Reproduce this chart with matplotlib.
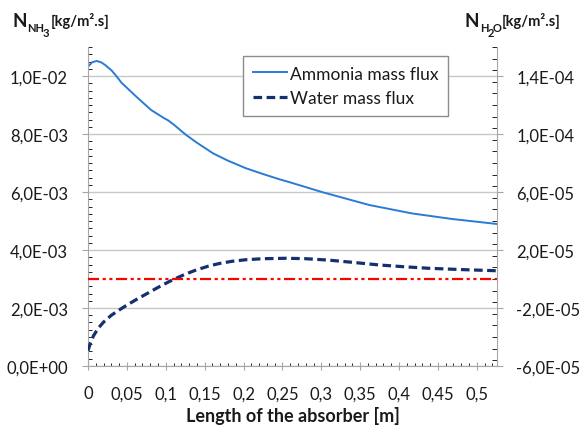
import matplotlib
matplotlib.use("Agg")
import matplotlib.pyplot as plt
from matplotlib.ticker import MultipleLocator, FuncFormatter, FixedLocator

plt.rcParams['font.family'] = ['Lato', 'DejaVu Sans']

# Ammonia mass flux [kg/m2.s] (left axis)
length_nh3 = [0, 0.005, 0.011, 0.017, 0.022, 0.030, 0.037, 0.043, 0.062, 0.081,
              0.097, 0.103, 0.110, 0.126, 0.140, 0.161, 0.180, 0.203, 0.225,
              0.246, 0.259, 0.302, 0.362, 0.417, 0.468, 0.525]
flux_nh3 = [10.32e-3, 10.47e-3, 10.52e-3, 10.47e-3, 10.38e-3, 10.20e-3, 9.98e-3,
            9.77e-3, 9.29e-3, 8.83e-3, 8.56e-3, 8.47e-3, 8.33e-3, 7.97e-3, 7.70e-3,
            7.33e-3, 7.08e-3, 6.82e-3, 6.62e-3, 6.44e-3, 6.34e-3, 5.99e-3, 5.55e-3,
            5.26e-3, 5.07e-3, 4.90e-3]

# Water mass flux [kg/m2.s] (right axis)
length_h2o = [0, 0.003, 0.007, 0.013, 0.020, 0.030, 0.040, 0.050, 0.062, 0.075,
              0.090, 0.109, 0.125, 0.139, 0.155, 0.169, 0.185, 0.203, 0.225,
              0.255, 0.280, 0.310, 0.340, 0.374, 0.405, 0.438, 0.480, 0.525]
flux_h2o = [-4.94e-5, -4.42e-5, -3.92e-5, -3.40e-5, -2.97e-5, -2.50e-5, -2.14e-5,
            -1.80e-5, -1.42e-5, -1.03e-5, -0.58e-5, -0.05e-5, 0.33e-5, 0.62e-5,
            0.89e-5, 1.07e-5, 1.22e-5, 1.33e-5, 1.40e-5, 1.43e-5, 1.40e-5,
            1.30e-5, 1.15e-5, 0.97e-5, 0.85e-5, 0.74e-5, 0.65e-5, 0.57e-5]

zero_flux = 0.0

left_ticks = [0, 2e-3, 4e-3, 6e-3, 8e-3, 10e-3]
right_ticks = [-6e-5, -2e-5, 2e-5, 6e-5, 10e-5, 14e-5]

txt = '#1a1a1a'
spine_col = '#a6a6a6'


def sci_comma(v, pos):
    return ("%.1E" % v).replace('.', ',')


def x_comma(v, pos):
    return ("%g" % round(v, 3)).replace('.', ',')


def fx(px):
    return px / 583


def fy(py):
    return 1 - py / 431


fig = plt.figure(figsize=(5.83, 4.31), dpi=100)
ax = fig.add_axes([0.151, 0.1485, 0.7015, 0.7401])
ax2 = ax.twinx()

ax.plot(length_nh3, flux_nh3, color='#2a7bd4', lw=1.4, label='Ammonia mass flux')
ax2.plot(length_h2o, flux_h2o, color='#14306e', lw=2.3, dashes=(2.7, 1.4),
         label='Water mass flux')
ax2.axhline(zero_flux, color='#ff0000', lw=1.6, dashes=(5, 1.6, 1.4, 1.6, 1.4, 1.6))

ax.set_xlim(0, 0.526)
ax.set_ylim(0, 11e-3)
ax2.set_ylim(-6e-5, 16e-5)

ax.yaxis.set_major_locator(FixedLocator(left_ticks))
ax.yaxis.set_minor_locator(MultipleLocator(2.5e-4))
ax.yaxis.set_major_formatter(FuncFormatter(sci_comma))
ax2.yaxis.set_major_locator(FixedLocator(right_ticks))
ax2.yaxis.set_minor_locator(MultipleLocator(8e-6))
ax2.yaxis.set_major_formatter(FuncFormatter(sci_comma))
ax.xaxis.set_major_locator(MultipleLocator(0.05))
ax.xaxis.set_minor_locator(MultipleLocator(0.01))
ax.xaxis.set_major_formatter(FuncFormatter(x_comma))

ax.grid(True, axis='y', which='major', color='#c8c8c8', lw=1)
ax.set_axisbelow(True)

for a in (ax, ax2):
    a.spines['top'].set_visible(False)
    for s in ('left', 'right', 'bottom'):
        a.spines[s].set_color(spine_col)
    a.tick_params(colors=spine_col, labelcolor=txt, labelsize=12)

ax.spines['right'].set_visible(False)
ax2.spines['left'].set_visible(False)
ax2.spines['bottom'].set_visible(False)

ax.tick_params(axis='y', which='major', direction='out', length=4.5, pad=10)
ax.tick_params(axis='y', which='minor', direction='in', length=3)
ax2.tick_params(axis='y', which='major', direction='out', length=4, pad=10)
ax2.tick_params(axis='y', which='minor', direction='in', length=3.5)
ax.tick_params(axis='x', which='major', direction='inout', length=6, pad=11)
ax.tick_params(axis='x', which='minor', direction='in', length=2.5)

ax.set_xlabel('Length of the absorber [m]', fontsize=13, fontweight='bold',
              color=txt, labelpad=3)

# axis titles, built from pieces so the subscripts sit like the original
def axis_title(x0, parts):
    for dx, dy, s, size in parts:
        fig.text(fx(x0 + dx), fy(dy), s, fontsize=size, fontweight='bold',
                 color=txt, va='baseline')


axis_title(12, [(0, 27, 'N', 13.5), (15, 32, 'NH', 8), (31, 37, '3', 8),
                (39, 26, '[kg/m².s]', 10.5)])
axis_title(465, [(0, 27, 'N', 13.5), (15, 32, 'H', 8), (23, 37, '2', 8),
                 (28, 32, 'O', 8), (37, 26, '[kg/m².s]', 10.5)])

h1, l1 = ax.get_legend_handles_labels()
h2, l2 = ax2.get_legend_handles_labels()
leg = fig.legend(h1 + h2, l1 + l2, loc='upper left',
                 bbox_to_anchor=(fx(243), fy(57)), borderaxespad=0,
                 fontsize=12.5, frameon=True, fancybox=False, framealpha=1,
                 edgecolor='#8c8c8c', handlelength=2.0, handletextpad=0.15,
                 labelspacing=0.5, borderpad=0.55)
leg.get_frame().set_linewidth(1)
for t in leg.get_texts():
    t.set_color(txt)

fig.savefig('out.png', dpi=100)
